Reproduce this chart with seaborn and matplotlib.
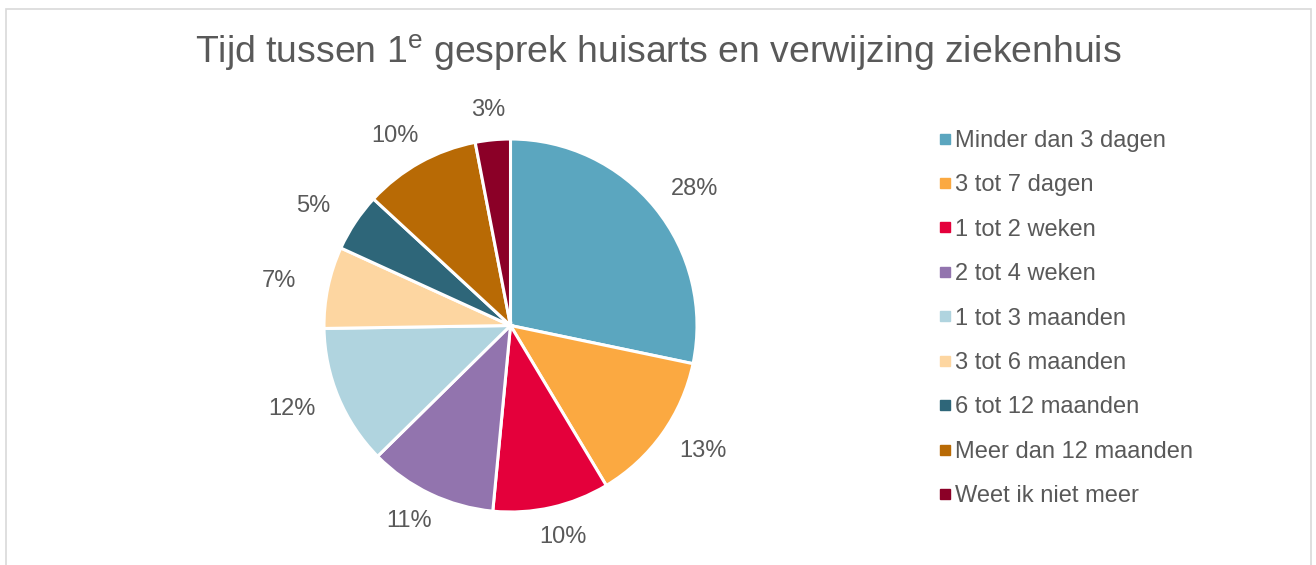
import matplotlib
matplotlib.use('Agg')
import numpy as np
import matplotlib.pyplot as plt
from matplotlib.lines import Line2D
from matplotlib.patches import Rectangle
import seaborn as sns

# data
categories = ['Minder dan 3 dagen', '3 tot 7 dagen', '1 tot 2 weken', '2 tot 4 weken',
              '1 tot 3 maanden', '3 tot 6 maanden', '6 tot 12 maanden',
              'Meer dan 12 maanden', 'Weet ik niet meer']
percentages = [28, 13, 10, 11, 12, 7, 5, 10, 3]
slice_colors = ['#5BA6BF', '#FBA941', '#E4003B', '#9274AE', '#B0D4DF',
                '#FDD6A1', '#2E6679', '#B86A05', '#8B0027']
title_text = r'Tijd tussen 1$^{\mathrm{e}}$ gesprek huisarts en verwijzing ziekenhuis'

sns.set_theme(style='white')
plt.rcParams['font.family'] = ['Liberation Sans', 'DejaVu Sans']
plt.rcParams['mathtext.fontset'] = 'custom'
plt.rcParams['mathtext.rm'] = 'Liberation Sans'
text_grey = '#595959'

W, H = 1316, 565
fig = plt.figure(figsize=(W / 100, H / 100), dpi=100)
fig.patch.set_facecolor('white')

# chart border (bottom edge runs off the image)
fig.add_artist(Rectangle((6 / W, -0.05), (1311 - 6) / W, 1.05 - 9 / H,
                         transform=fig.transFigure, fill=False,
                         edgecolor='#D9D9D9', linewidth=1.2))

cx, cy, r = 510.5, 325.5, 186.5
ax = fig.add_axes([(cx - r) / W, (H - cy - r) / H, 2 * r / W, 2 * r / H])
wedges, _ = ax.pie(percentages, colors=slice_colors, startangle=90, counterclock=False,
                   radius=1, wedgeprops={'edgecolor': 'white', 'linewidth': 2.2})

# data labels outside the pie, a bit further out left/right (wide text boxes)
for w, p in zip(wedges, percentages):
    ang = np.deg2rad((w.theta1 + w.theta2) / 2)
    ax.text(1.27 * np.cos(ang), 1.16 * np.sin(ang), f'{p}%', ha='center', va='center',
            fontsize=17, color=text_grey)

ax.set_xlim(-1, 1)
ax.set_ylim(-1, 1)
ax.set_aspect('equal')
ax.axis('off')

fig.text(658 / W, 1 - 53 / H, title_text, ha='center', va='center',
         fontsize=26.9, color=text_grey)

handles = [Line2D([0], [0], marker='s', linestyle='', markersize=6.5,
                  markerfacecolor=c, markeredgecolor=c) for c in slice_colors]
leg = fig.legend(handles, categories, loc='upper left',
                 bbox_to_anchor=(927 / W, 1 - 118 / H), frameon=False,
                 fontsize=17, labelspacing=0.95, handlelength=0.5,
                 handletextpad=0.2, borderpad=0)
for t in leg.get_texts():
    t.set_color(text_grey)

plt.savefig('out.png', dpi=100)
plt.close()
